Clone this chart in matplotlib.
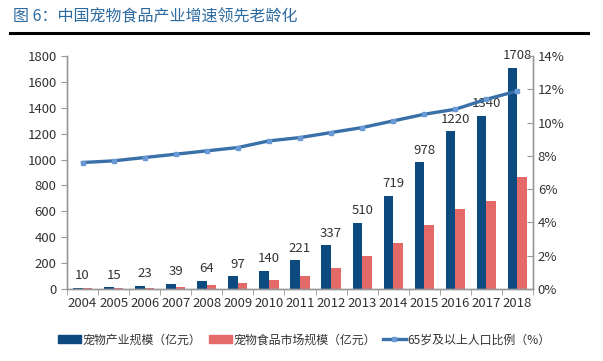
import matplotlib
matplotlib.use('Agg')
import matplotlib.pyplot as plt
import numpy as np
from matplotlib.patches import Patch
from matplotlib.lines import Line2D

plt.rcParams['font.family'] = ['Noto Sans CJK SC', 'DejaVu Sans']

years = ['2004', '2005', '2006', '2007', '2008', '2009', '2010', '2011',
         '2012', '2013', '2014', '2015', '2016', '2017', '2018']
pet_industry = [10, 15, 23, 39, 64, 97, 140, 221, 337, 510, 719, 978, 1220, 1340, 1708]
pet_food = [5, 7, 10, 16, 28, 46, 68, 100, 162, 255, 356, 495, 618, 680, 865]
aged_ratio = [7.6, 7.7, 7.9, 8.1, 8.3, 8.5, 8.9, 9.1, 9.4, 9.7, 10.1, 10.5, 10.8, 11.4, 11.9]

title = '图 6：中国宠物食品产业增速领先老龄化'
labels = ['宠物产业规模（亿元）', '宠物食品市场规模（亿元）', '65岁及以上人口比例（%）']

blue = '#0d4a80'
pink = '#e46a6a'
line_c = '#3a70a8'
text_c = '#333333'
spine_c = '#999999'

fig = plt.figure(figsize=(6.03, 3.61), dpi=100)
ax = fig.add_axes([67 / 603, 1 - 289 / 361, 466 / 603, 233 / 361])
ax2 = ax.twinx()

x = np.arange(len(years))
w = 0.31
ax.bar(x - w / 2, pet_industry, w, color=blue, zorder=2)
ax.bar(x + w / 2, pet_food, w, color=pink, zorder=2)
for xi, v in zip(x, pet_industry):
    ax.annotate(str(v), (xi, v), xytext=(0, 4), textcoords='offset points',
                ha='center', va='bottom', fontsize=9.5, color=text_c,
                clip_on=False, zorder=1)

ax2.plot(x, aged_ratio, color=line_c, lw=2.4, marker='s', ms=3,
         mfc='#6a9ad6', mec='#6a9ad6', zorder=3)

ax.set_xlim(-0.5, len(years) - 0.5)
ax.set_ylim(0, 1800)
ax.set_yticks(range(0, 1801, 200))
ax2.set_ylim(0, 14)
ax2.set_yticks(range(0, 15, 2))
ax2.set_yticklabels([f'{v}%' for v in range(0, 15, 2)])

ax.set_xticks(x)
ax.set_xticklabels(years)
ax.set_xticks(np.arange(-0.5, len(years), 1), minor=True)
ax.tick_params(axis='x', which='major', length=0, pad=6, labelsize=9.5, colors=text_c)
ax.tick_params(axis='x', which='minor', length=4, color=spine_c, direction='out')
ax.tick_params(axis='y', length=4, color=spine_c, labelsize=9.5, labelcolor=text_c, direction='out')
ax2.tick_params(axis='y', length=4, color=spine_c, labelsize=9.5, labelcolor=text_c, direction='in')

for a in (ax, ax2):
    a.spines['top'].set_visible(False)
    for s in ('left', 'right', 'bottom'):
        a.spines[s].set_color(spine_c)
        a.spines[s].set_linewidth(1)
ax.set_zorder(ax2.get_zorder() - 1)
ax.patch.set_visible(False)
ax2.patch.set_visible(False)

fig.text(13 / 603, 1 - 17 / 361, title, fontsize=11.5, color='#2c6aa0',
         ha='left', va='center')
fig.add_artist(Line2D([10 / 603, 588 / 603], [1 - 33 / 361, 1 - 33 / 361],
                      color='black', lw=2.2))

handles = [Patch(color=blue), Patch(color=pink),
           Line2D([0], [0], color=line_c, lw=2.4, marker='s', ms=3,
                  mfc='#6a9ad6', mec='#6a9ad6')]
fig.legend(handles, labels, loc='center', bbox_to_anchor=(0.505, 1 - 340 / 361),
           ncol=3, frameon=False, fontsize=8.6, handlelength=1.9,
           handleheight=0.6, columnspacing=0.6, handletextpad=0.15,
           labelcolor=text_c)

fig.savefig('out.png', dpi=100)
